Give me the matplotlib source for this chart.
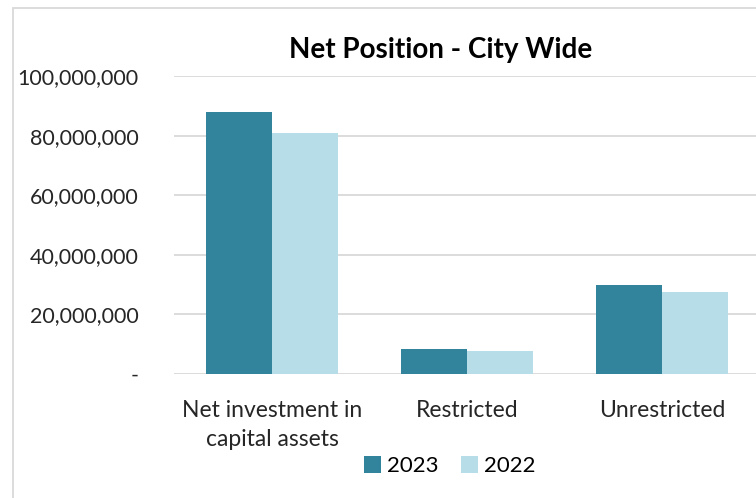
#!/usr/bin/env python3

import numpy
import matplotlib
matplotlib.use("Agg")
import matplotlib.pyplot as plt
from matplotlib.patches import Rectangle
from matplotlib.ticker import FuncFormatter

plt.rcParams["font.family"] = ["Lato", "DejaVu Sans"]

categories = ["Net investment in\ncapital assets", "Restricted", "Unrestricted"]
years = ["2023", "2022"]
values_2023 = [88000000, 8400000, 29900000]
values_2022 = [80900000, 7700000, 27500000]
colors = ["#31849b", "#b7dde8"]

fig = plt.figure(figsize=(7.56, 4.98), dpi=100)
ax = fig.add_axes([0.2308, 0.249, 0.7738, 0.598])

x = numpy.arange(len(categories))
w = 0.34
ax.bar(x - w/2, values_2023, w, color=colors[0], label=years[0], zorder=3)
ax.bar(x + w/2, values_2022, w, color=colors[1], label=years[1], zorder=3)

ax.set_xlim(-0.5, len(categories) - 0.5)
ax.set_ylim(0, 100000000)
ax.set_yticks(numpy.arange(0, 100000001, 20000000))
ax.yaxis.set_major_formatter(FuncFormatter(lambda v, p: "-" if v == 0 else f"{int(v):,}"))
ax.grid(axis="y", color="#d9d9d9", linewidth=1.3, zorder=0)
for s in ax.spines.values():
    s.set_visible(False)
ax.tick_params(axis="y", length=0, labelsize=15.5, colors="#262626", pad=26)
ax.tick_params(axis="x", length=0, labelsize=16.5, colors="#262626", pad=19)
ax.set_xticks(x)
ax.set_xticklabels(categories, linespacing=1.45)

fig.text(0.583, 0.9, "Net Position - City Wide", ha="center", va="center",
         fontsize=20, fontweight="bold", color="black")

fig.legend(loc="center", bbox_to_anchor=(0.595, 0.064), ncol=2, frameon=False,
           fontsize=16, handlelength=0.75, handleheight=0.75, handletextpad=0.3,
           columnspacing=1.0)

fig.patches.append(Rectangle((13/756, -0.1), 1.2, 1 - 8/498 + 0.1, transform=fig.transFigure,
                             fill=False, edgecolor="#d9d9d9", linewidth=1.3))

fig.savefig("out.png", dpi=100)
